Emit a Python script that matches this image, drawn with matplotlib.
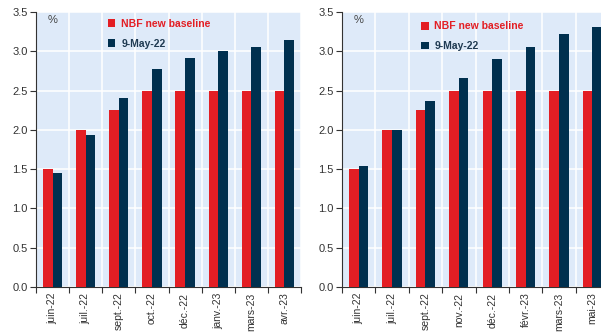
import matplotlib.pyplot as plt
import numpy as np

plt.rcParams['font.family'] = ['Liberation Sans', 'DejaVu Sans']

# policy rate path: NBF baseline vs market pricing on 9 May 2022
left_months = ['juin-22', 'juil.-22', 'sept.-22', 'oct.-22', 'déc.-22', 'janv.-23', 'mars-23', 'avr.-23']
left_nbf = [1.50, 2.00, 2.25, 2.50, 2.50, 2.50, 2.50, 2.50]
left_may = [1.45, 1.94, 2.40, 2.77, 2.92, 3.00, 3.05, 3.15]

right_months = ['juin-22', 'juil.-22', 'sept.-22', 'nov.-22', 'déc.-22', 'févr.-23', 'mars-23', 'mai-23']
right_nbf = [1.50, 2.00, 2.25, 2.50, 2.50, 2.50, 2.50, 2.50]
right_may = [1.54, 2.00, 2.37, 2.66, 2.90, 3.06, 3.22, 3.31]

RED = '#E31E24'
NAVY = '#00304F'
BG = '#DEEAF9'

W, H = 601, 333
fig = plt.figure(figsize=(W / 100, H / 100), dpi=100)


def panel(rect, months, nbf, may, leg_x, leg_y):
    x0, y0, x1, y1 = rect
    ax = fig.add_axes([x0 / W, 1 - y1 / H, (x1 - x0) / W, (y1 - y0) / H])
    ax.set_facecolor(BG)
    x = np.arange(len(months))
    w = 0.29
    b1 = ax.bar(x - w / 2, nbf, w, color=RED, zorder=3)
    b2 = ax.bar(x + w / 2, may, w, color=NAVY, zorder=3)
    ax.set_xlim(-0.5, len(months) - 0.5)
    ax.set_ylim(0, 3.5)
    ax.set_yticks(np.arange(0, 3.51, 0.5))
    ax.set_yticklabels([f'{v:.1f}' for v in np.arange(0, 3.51, 0.5)])
    ax.set_xticks(np.arange(len(months) + 1) - 0.5)
    ax.set_xticklabels([])
    ax.set_xticks(x, minor=True)
    ax.set_xticklabels(months, minor=True, rotation=90)
    ax.tick_params(axis='x', which='minor', length=0, labelsize=7.5,
                   colors='#333333', pad=4)
    ax.tick_params(axis='x', which='major', length=4, width=0.8, color='#333333')
    ax.tick_params(axis='y', length=4, width=0.8, labelsize=8,
                   colors='#333333', pad=2)
    ax.grid(True, which='major', color='white', linewidth=1.1, zorder=0)
    for side in ['top', 'right']:
        ax.spines[side].set_visible(False)
    ax.spines['left'].set_color('#333333')
    ax.spines['bottom'].set_color('#333333')
    ax.text(0.045, 0.99, '%', transform=ax.transAxes, ha='left', va='top',
            fontsize=8, color='#444444')
    leg = ax.legend([b1, b2], ['NBF new baseline', '9-May-22'],
                    loc='upper left', bbox_to_anchor=(leg_x, leg_y),
                    frameon=False, handlelength=0.75, handleheight=0.75,
                    handletextpad=0.55, labelspacing=0.95,
                    prop={'weight': 'bold', 'size': 7.5})
    leg.get_texts()[0].set_color(RED)
    leg.get_texts()[1].set_color('#1F3A52')
    return ax


panel((36, 12, 301, 287), left_months, left_nbf, left_may, 0.235, 1.01)
panel((342, 12, 609, 287), right_months, right_nbf, right_may, 0.26, 1.0)

fig.savefig('out.png', dpi=100)
